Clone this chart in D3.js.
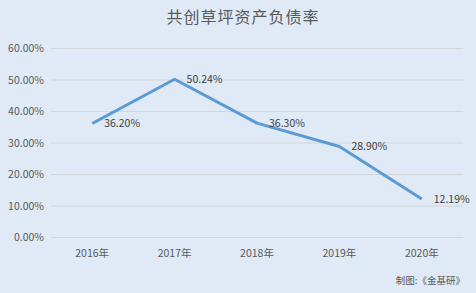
<!DOCTYPE html>
<html>
<head>
<meta charset="utf-8">
<script src="https://cdn.jsdelivr.net/npm/d3@7"></script>
<style>
  body { margin: 0; background: #dfeaf6; }
  text { font-family: "Microsoft YaHei", "Noto Sans CJK SC", "DejaVu Sans", sans-serif; }
</style>
</head>
<body>
<div id="chart"></div>
<script>
// Data
const years = ["2016年", "2017年", "2018年", "2019年", "2020年"]
const ratios = [36.20, 50.24, 36.30, 28.90, 12.19]
const yTicks = [0, 10, 20, 30, 40, 50, 60]

const width = 476, height = 293
const margin = {top: 48.5, right: 13, bottom: 55.5, left: 51}

const svg = d3.select("#chart")
  .append("svg")
  .attr("width", width)
  .attr("height", height)

svg.append("rect")
  .attr("width", width)
  .attr("height", height)
  .attr("fill", "#dfeaf6")

// Scales
const x = d3.scaleBand()
  .domain(years)
  .range([margin.left, width - margin.right])
const y = d3.scaleLinear()
  .domain([0, 60])
  .range([height - margin.bottom, margin.top])

// Gridlines
svg.append("g")
  .selectAll("line")
  .data(yTicks)
  .enter()
  .append("line")
    .attr("x1", margin.left)
    .attr("x2", width - margin.right)
    .attr("y1", d => y(d))
    .attr("y2", d => y(d))
    .attr("stroke", "#d3d6da")
    .attr("stroke-width", 1)

// Y axis
const yAxis = svg.append("g")
  .attr("transform", "translate(" + (margin.left - 7) + ",0)")
  .call(d3.axisLeft(y).tickValues(yTicks).tickSize(0).tickFormat(d => d.toFixed(2) + "%"))
yAxis.select(".domain").remove()
yAxis.selectAll("text")
  .attr("font-size", 10.5)
  .attr("fill", "#595959")
  .attr("x", 0)

// X axis
const xAxis = svg.append("g")
  .attr("transform", "translate(0," + (height - margin.bottom) + ")")
  .call(d3.axisBottom(x).tickSize(0))
xAxis.select(".domain").remove()
xAxis.selectAll("text")
  .attr("font-size", 10.5)
  .attr("fill", "#595959")
  .attr("dy", "1.25em")
  .attr("y", 6)

// Line
const line = d3.line()
  .x((d, i) => x(years[i]) + x.bandwidth() / 2)
  .y(d => y(d))

svg.append("path")
  .datum(ratios)
  .attr("d", line)
  .attr("fill", "none")
  .attr("stroke", "#5b9bd5")
  .attr("stroke-width", 3)
  .attr("stroke-linejoin", "round")

// Data labels
svg.append("g")
  .selectAll("text")
  .data(ratios)
  .enter()
  .append("text")
    .attr("x", (d, i) => x(years[i]) + x.bandwidth() / 2 + 12)
    .attr("y", d => y(d))
    .attr("dy", "0.35em")
    .attr("font-size", 10.5)
    .attr("fill", "#404040")
    .text(d => d.toFixed(2) + "%")

// Title
svg.append("text")
  .attr("x", 243)
  .attr("y", 17)
  .attr("dy", "0.35em")
  .attr("text-anchor", "middle")
  .attr("font-size", 16)
  .attr("fill", "#595959")
  .attr("letter-spacing", 1)
  .text("共创草坪资产负债率")

// Source
svg.append("text")
  .attr("x", 465)
  .attr("y", 281)
  .attr("dy", "0.35em")
  .attr("text-anchor", "end")
  .attr("font-size", 9.5)
  .attr("fill", "#595959")
  .text("制图:《金基研》")
</script>
</body>
</html>
